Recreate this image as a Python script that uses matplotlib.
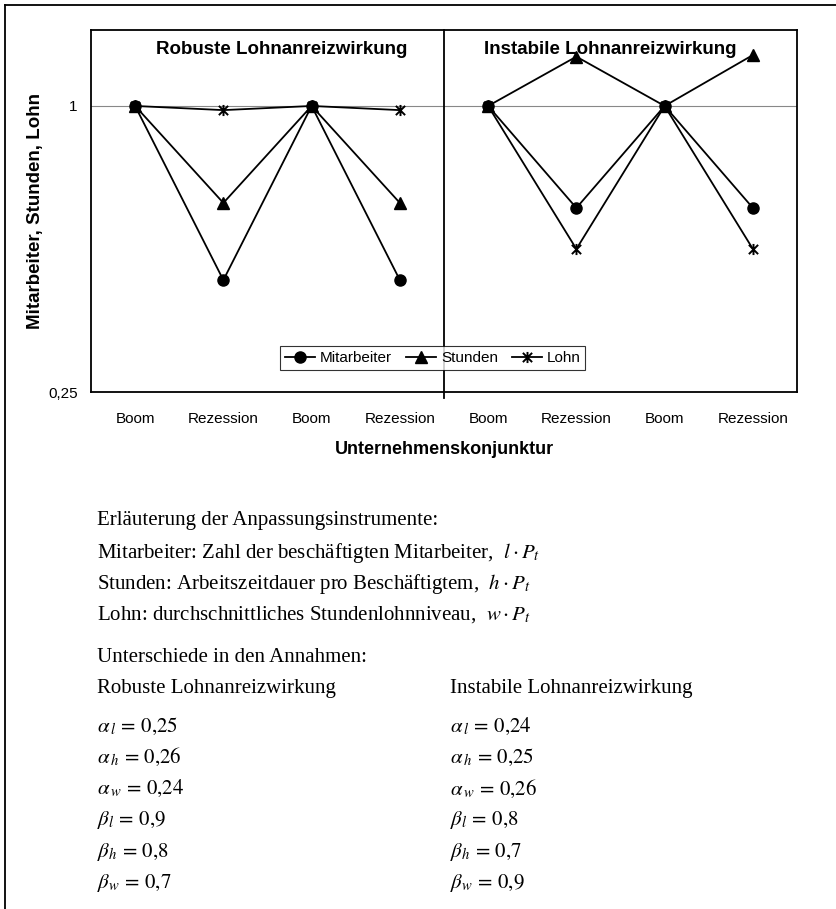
import matplotlib
matplotlib.use("Agg")
import matplotlib.pyplot as plt
from matplotlib.path import Path
from matplotlib.lines import Line2D

# Konjunkturphasen (je Panel vier Perioden)
categories = ["Boom", "Rezession", "Boom", "Rezession"] * 2
mitarbeiter = [1.0, 0.43, 1.0, 0.43, 1.0, 0.61, 1.0, 0.61]
stunden = [1.0, 0.625, 1.0, 0.625, 1.0, 1.27, 1.0, 1.28]
lohn = [1.0, 0.98, 1.0, 0.98, 1.0, 0.50, 1.0, 0.50]
panel_titles = ["Robuste Lohnanreizwirkung", "Instabile Lohnanreizwirkung"]

params_robust = [r"$\alpha_{\,l} \,=\, 0{,}25$", r"$\alpha_{\,h} \,=\, 0{,}26$", r"$\alpha_{\,w} \,=\, 0{,}24$",
                 r"$\beta_l \,=\, 0{,}9$", r"$\beta_h \,=\, 0{,}8$", r"$\beta_w \,=\, 0{,}7$"]
params_instabil = [r"$\alpha_{\,l} \,=\, 0{,}24$", r"$\alpha_{\,h} \,=\, 0{,}25$", r"$\alpha_{\,w} \,=\, 0{,}26$",
                   r"$\beta_l \,=\, 0{,}8$", r"$\beta_h \,=\, 0{,}7$", r"$\beta_w \,=\, 0{,}9$"]

plt.rcParams["font.family"] = ["Liberation Sans", "DejaVu Sans"]
plt.rcParams["mathtext.fontset"] = "stix"

W, H = 837, 909
fig = plt.figure(figsize=(W / 100, H / 100), dpi=100)

# Stern-Marker (x mit senkrechtem Strich)
star = Path([(-1, -1), (1, 1), (-1, 1), (1, -1), (0, -1.2), (0, 1.2)],
            [Path.MOVETO, Path.LINETO, Path.MOVETO, Path.LINETO, Path.MOVETO, Path.LINETO])

x0, x1, y0, y1 = 91, 797, 30, 392
ax = fig.add_axes([x0 / W, 1 - y1 / H, (x1 - x0) / W, (y1 - y0) / H])
ax.set_yscale("log")
ax.set_ylim(0.25, 1.445)
ax.set_xlim(-0.5, 7.5)

ax.axhline(1.0, color="#888888", lw=0.8, zorder=1)

styles = [
    (mitarbeiter, dict(marker="o", ms=8), "Mitarbeiter"),
    (stunden, dict(marker="^", ms=8), "Stunden"),
    (lohn, dict(marker=star, ms=8, mew=1.4), "Lohn"),
]
xs = list(range(len(categories)))
for vals, st, name in styles:
    for i0 in (0, 4):
        ax.plot(xs[i0:i0 + 4], vals[i0:i0 + 4], color="black", lw=1.3,
                mfc="black", mec="black", zorder=3, **st)

# Trennlinie zwischen den Szenarien
ax.plot([3.5, 3.5], [-0.017, 1], transform=ax.get_xaxis_transform(),
        color="black", lw=1.3, clip_on=False, zorder=4)

for spine in ax.spines.values():
    spine.set_linewidth(1.3)

ax.set_xticks(xs)
ax.set_xticklabels(categories, fontsize=11)
ax.tick_params(axis="x", length=0, pad=14.5)
ax.set_yticks([0.25, 1.0])
ax.set_yticklabels(["0,25", "1"], fontsize=11)
ax.minorticks_off()
ax.tick_params(axis="y", length=0, pad=9.5)

ax.text(0.27, 0.945, panel_titles[0], transform=ax.transAxes, ha="center",
        va="center", fontsize=13.5, fontweight="bold")
ax.text(0.735, 0.945, panel_titles[1], transform=ax.transAxes, ha="center",
        va="center", fontsize=13.5, fontweight="bold")

handles = [Line2D([], [], color="black", lw=1.3, mfc="black", mec="black", **st)
           for _, st, _ in styles]
leg = ax.legend(handles, [s[2] for s in styles], ncol=3, loc="center",
                bbox_to_anchor=(0.484, 0.094), fontsize=11, frameon=True,
                fancybox=False, edgecolor="black", handlelength=2.0,
                handletextpad=0.3, columnspacing=0.9, borderpad=0.3)
leg.get_frame().set_linewidth(0.8)

fig.text(36 / W, 1 - 211 / H, "Mitarbeiter, Stunden, Lohn", rotation=90,
         ha="center", va="center", fontsize=13.5, fontweight="bold")
fig.text(444 / W, 1 - 450 / H, "Unternehmenskonjunktur", ha="center",
         va="center", fontsize=13, fontweight="bold")

# Rahmen oben und links
fig.add_artist(Line2D([5 / W, 1], [1 - 5 / H, 1 - 5 / H], color="black", lw=1.3))
fig.add_artist(Line2D([5 / W, 5 / W], [0, 1 - 5 / H], color="black", lw=1.3))

# Erlaeuterungen
left_x, right_x = 97, 450
serif = dict(family=["Liberation Serif", "DejaVu Serif"], fontsize=15, va="center")
lines = [
    (520, "Erläuterung der Anpassungsinstrumente:"),
    (553, r"Mitarbeiter: Zahl der beschäftigten Mitarbeiter,  $l\cdot P_t$"),
    (584, r"Stunden: Arbeitszeitdauer pro Beschäftigtem,  $h\cdot P_t$"),
    (615, r"Lohn: durchschnittliches Stundenlohnniveau,  $w\cdot P_t$"),
    (658, "Unterschiede in den Annahmen:"),
]
for y, s in lines:
    fig.text(left_x / W, 1 - y / H, s, **serif)
fig.text(left_x / W, 1 - 689 / H, panel_titles[0], **serif)
fig.text(right_x / W, 1 - 689 / H, panel_titles[1], **serif)
for k, (a, b) in enumerate(zip(params_robust, params_instabil)):
    y = 726 + 31.4 * k
    fig.text(left_x / W, 1 - y / H, a, **serif)
    fig.text(right_x / W, 1 - y / H, b, **serif)

fig.savefig("out.png", dpi=100)
